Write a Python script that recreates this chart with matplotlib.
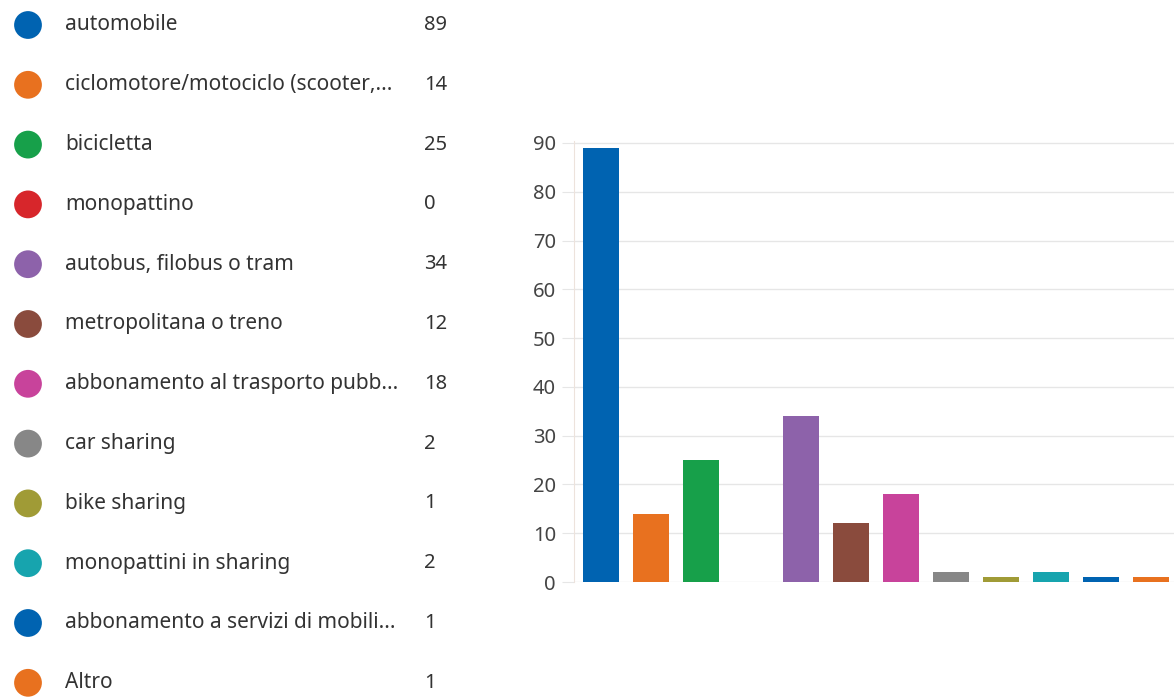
import matplotlib
matplotlib.use("Agg")
import matplotlib.pyplot as plt

categories = [
    "automobile",
    "ciclomotore/motociclo (scooter,...",
    "bicicletta",
    "monopattino",
    "autobus, filobus o tram",
    "metropolitana o treno",
    "abbonamento al trasporto pubb...",
    "car sharing",
    "bike sharing",
    "monopattini in sharing",
    "abbonamento a servizi di mobili...",
    "Altro",
]
counts = [89, 14, 25, 0, 34, 12, 18, 2, 1, 2, 1, 1]
colors = ["#0063B1", "#E8711F", "#17A04A", "#D7262B", "#8D62AA", "#8A4B3D",
          "#C8439B", "#878787", "#A09B36", "#17A4AE", "#0063B1", "#E8711F"]
yticks = [0, 10, 20, 30, 40, 50, 60, 70, 80, 90]

W, H = 1174, 697
plt.rcParams['font.family'] = ['Noto Sans', 'DejaVu Sans']
fig = plt.figure(figsize=(W / 100, H / 100), dpi=100)

# Legend area (pixel coordinates)
lax = fig.add_axes([0, 0, 1, 1])
lax.set_xlim(0, W)
lax.set_ylim(H, 0)
lax.axis("off")
y0, dy = 25, 59.8
for i, (cat, cnt, col) in enumerate(zip(categories, counts, colors)):
    y = y0 + dy * i
    lax.scatter([28], [y], s=400, color=col, edgecolors="none")
    lax.text(65, y, cat, va="center", ha="left", fontsize=15, color="#333333")
    lax.text(424, y, str(cnt), va="center", ha="left", fontsize=14.5, color="#333333")

# Bar chart
left_px, right_px = 574, 1174
top_px, bottom_px = 141, 582
ax = fig.add_axes([left_px / W, 1 - bottom_px / H, (right_px - left_px) / W,
                   (bottom_px - top_px) / H])
x = list(range(len(counts)))
ax.bar(x, counts, width=0.72, color=colors, zorder=3)
ax.set_xlim(-0.53, 11.47)
ax.set_ylim(0, 90 * (bottom_px - top_px) / (bottom_px - 143))
ax.set_yticks(yticks)
ax.set_yticklabels([str(v) for v in yticks], fontsize=14.5, color="#444444")
ax.set_xticks([])
ax.grid(axis="y", color="#E6E6E6", linewidth=1, zorder=0)
ax.tick_params(axis="y", length=9, color="#E6E6E6", pad=4)
for s in ["top", "right", "bottom"]:
    ax.spines[s].set_visible(False)
ax.spines["left"].set_color("#EDE3DC")
ax.set_facecolor("none")

fig.savefig("out.png", dpi=100)
